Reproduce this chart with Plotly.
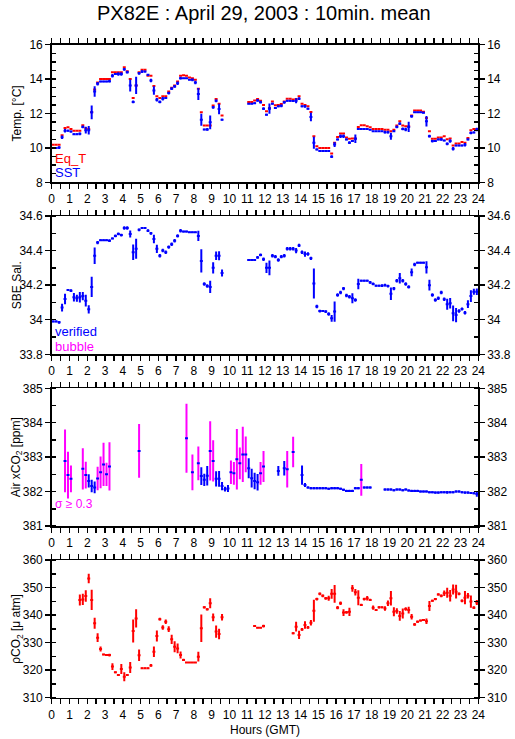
import plotly.graph_objects as go

N_SLOTS = 144  # ten-minute means over 24 hours
slot_hours = [(i + 0.5) / 6 for i in range(N_SLOTS)]
_ = None

# ---------------- Panel 1 : temperatures ----------------
eq_t = [10.18, 10.18, 10.18, 10.74, 11.15, 11.2, 11.1, 11.0, 11.0, 11.0, 11.32, 11.14,
        11.1, 12.07, 13.4, 13.8, 14.0, 14.0, 14.0, 14.0, 14.4, 14.4, 14.4, 14.4,
        14.69, 14.45, 14.0, 12.9, 13.63, 14.4, 14.54, 14.54, 14.19, 14.19, 13.6, 13.0,
        12.9, 13.0, 13.0, 13.28, 13.5, 13.63, 13.86, 14.19, 14.22, 14.2, 14.1, 14.05,
        13.96, 13.44, 12.07, 11.3, 11.3, 11.3, 12.47, 12.84, 12.57, 11.88, _, _,
        _, _, _, _, _, _, 12.67, 12.67, 12.75, 12.84, 12.74, 12.5,
        12.13, 12.32, 12.7, 12.48, 12.5, 12.55, 12.7, 12.86, 12.86, 12.82, 12.84, 13.0,
        12.57, 12.5, 12.42, 12.09, 10.68, 10.1, 10.0, 10.0, 10.0, 10.0, 9.68, 10.3,
        10.64, 10.84, 10.84, 10.6, 10.53, 10.55, 10.55, 11.22, 11.32, 11.32, 11.26, 11.2,
        11.1, 11.1, 11.1, 11.1, 11.05, 11.05, 10.97, 11.05, 11.3, 11.55, 11.3, 11.26,
        11.26, 11.88, 12.18, 12.18, 12.18, 12.1, 11.74, 10.97, 10.53, 10.53, 10.6, 10.6,
        10.68, 10.5, 10.55, 10.14, 10.26, 10.26, 10.34, 10.3, 10.58, 11.03, 11.1, 11.1]

sst = [10.0, 10.0, 10.02, 10.62, 11.0, 11.0, 10.95, 10.8, 10.8, 10.82, 11.22, 11.03,
       11.03, 12.07, 13.28, 13.73, 13.86, 13.86, 13.86, 13.88, 14.19, 14.3, 14.3, 14.3,
       14.57, 14.4, 13.63, 12.67, 13.63, 14.34, 14.44, 14.44, 14.25, 13.92, 13.34, 12.8,
       12.67, 12.86, 12.9, 13.19, 13.44, 13.57, 13.76, 14.05, 14.05, 14.05, 13.96, 13.96,
       13.8, 13.13, 11.64, 11.07, 11.07, 11.49, 12.36, 12.74, 12.26, 11.64, _, _,
       _, _, _, _, _, _, 12.57, 12.57, 12.6, 12.76, 12.66, 12.28,
       11.93, 12.28, 12.57, 12.32, 12.42, 12.45, 12.65, 12.74, 12.74, 12.72, 12.74, 12.86,
       12.42, 12.42, 12.28, 11.8, 10.3, 9.91, 9.82, 9.82, 9.82, 9.82, 9.49, 10.2,
       10.49, 10.68, 10.68, 10.49, 10.3, 10.4, 10.53, 11.1, 11.1, 11.1, 11.1, 11.05,
       10.97, 10.97, 10.97, 10.97, 10.91, 10.91, 10.68, 10.97, 11.22, 11.41, 11.1, 11.07,
       11.22, 11.84, 12.07, 12.07, 12.07, 12.05, 11.55, 10.68, 10.4, 10.4, 10.49, 10.49,
       10.43, 10.24, 10.4, 9.95, 10.14, 10.14, 10.14, 10.18, 10.49, 10.87, 10.9, 11.07]

sst_err = [0.03, 0.03, 0.08, 0.1, 0.1, 0.05, 0.05, 0.05, 0.05, 0.08, 0.08, 0.2,
           0.25, 0.4, 0.3, 0.1, 0.05, 0.05, 0.05, 0.08, 0.1, 0.05, 0.1, 0.1,
           0.08, 0.08, 0.35, 0.08, 0.5, 0.08, 0.08, 0.05, 0.05, 0.1, 0.25, 0.1,
           0.08, 0.1, 0.05, 0.08, 0.08, 0.08, 0.1, 0.08, 0.03, 0.03, 0.03, 0.08,
           0.1, 0.35, 0.35, 0.05, 0.08, 0.4, 0.08, 0.08, 0.3, 0.05, _, _,
           _, _, _, _, _, _, 0.03, 0.03, 0.05, 0.08, 0.08, 0.08,
           0.05, 0.3, 0.05, 0.05, 0.05, 0.08, 0.08, 0.05, 0.05, 0.05, 0.15, 0.08,
           0.05, 0.08, 0.05, 0.25, 0.35, 0.05, 0.03, 0.03, 0.03, 0.03, 0.08, 0.15,
           0.05, 0.1, 0.1, 0.05, 0.08, 0.05, 0.25, 0.05, 0.03, 0.03, 0.03, 0.03,
           0.03, 0.03, 0.03, 0.03, 0.08, 0.08, 0.2, 0.05, 0.08, 0.08, 0.08, 0.1,
           0.3, 0.08, 0.03, 0.03, 0.03, 0.05, 0.3, 0.08, 0.08, 0.05, 0.05, 0.08,
           0.05, 0.08, 0.1, 0.1, 0.05, 0.05, 0.05, 0.1, 0.05, 0.08, 0.05, 0.1]

# ---------------- Panel 2 : SBE salinity ----------------
sal = [33.99, 33.99, 33.985, 34.07, 34.12, 34.172, 34.168, 34.13, 34.124, 34.13, 34.137, 34.11,
       34.06, 34.19, 34.37, 34.446, 34.46, 34.46, 34.46, 34.457, 34.47, 34.485, 34.496, 34.49,
       34.53, 34.53, 34.496, 34.39, 34.41, 34.52, 34.53, 34.53, 34.515, 34.5, 34.467, 34.41,
       34.37, 34.4, 34.39, 34.42, 34.436, 34.457, 34.485, 34.515, 34.51, 34.51, 34.506, 34.506,
       34.506, 34.485, 34.34, 34.207, 34.195, 34.19, 34.30, 34.37, 34.37, 34.27, _, _,
       _, _, _, _, _, _, 34.345, 34.345, 34.345, 34.36, 34.375, 34.35,
       34.30, 34.30, 34.37, 34.365, 34.345, 34.365, 34.37, 34.41, 34.41, 34.41, 34.40, 34.43,
       34.39, 34.38, 34.38, 34.355, 34.21, 34.076, 34.05, 34.05, 34.047, 34.033, 34.008, 34.047,
       34.143, 34.158, 34.18, 34.14, 34.133, 34.124, 34.114, 34.207, 34.226, 34.226, 34.226, 34.216,
       34.207, 34.197, 34.197, 34.197, 34.2, 34.195, 34.15, 34.18, 34.226, 34.24, 34.226, 34.207,
       34.19, 34.274, 34.32, 34.33, 34.33, 34.33, 34.303, 34.2, 34.143, 34.114, 34.124, 34.157,
       34.118, 34.09, 34.095, 34.037, 34.027, 34.05, 34.062, 34.04, 34.09, 34.137, 34.162, 34.162]

sal_err = [0.005, 0.005, 0.008, 0.023, 0.03, 0.005, 0.008, 0.024, 0.02, 0.03, 0.024, 0.034,
           0.024, 0.058, 0.048, 0.01, 0.005, 0.005, 0.005, 0.008, 0.005, 0.008, 0.008, 0.008,
           0.01, 0.01, 0.02, 0.045, 0.058, 0.008, 0.005, 0.005, 0.008, 0.008, 0.024, 0.024,
           0.01, 0.01, 0.01, 0.01, 0.01, 0.01, 0.01, 0.01, 0.005, 0.005, 0.005, 0.005,
           0.005, 0.029, 0.067, 0.01, 0.01, 0.035, 0.032, 0.024, 0.026, 0.02, _, _,
           _, _, _, _, _, _, 0.005, 0.005, 0.005, 0.008, 0.008, 0.01,
           0.03, 0.043, 0.01, 0.01, 0.01, 0.01, 0.01, 0.01, 0.01, 0.01, 0.015, 0.01,
           0.01, 0.015, 0.01, 0.01, 0.087, 0.01, 0.008, 0.005, 0.008, 0.01, 0.02, 0.058,
           0.01, 0.01, 0.01, 0.01, 0.01, 0.029, 0.01, 0.03, 0.005, 0.005, 0.005, 0.008,
           0.008, 0.005, 0.005, 0.008, 0.008, 0.008, 0.036, 0.01, 0.01, 0.03, 0.01, 0.01,
           0.01, 0.022, 0.01, 0.005, 0.005, 0.005, 0.035, 0.031, 0.01, 0.01, 0.01, 0.01,
           0.01, 0.032, 0.03, 0.046, 0.041, 0.01, 0.008, 0.01, 0.022, 0.034, 0.017, 0.019]

# ---------------- Panel 3 : Air xCO2 ----------------
xco2 = [_, _, _, _, 382.89, 382.48, 382.37, _, _, _, 382.66, 382.48,
        382.31, 382.16, 382.12, 382.38, 382.56, 382.79, 382.5, 382.73, _, _, _, _,
        _, _, _, _, _, 383.18, _, _, _, _, _, _,
        _, _, _, _, _, _, _, _, _, 383.55, _, 382.56,
        _, 382.82, 382.45, 382.34, 382.46, 383.18, 382.89, 382.37, 382.37, 382.16, 382.07, 382.09,
        382.56, 382.53, 382.94, 382.82, 383.08, 383.08, 382.68, 382.39, 382.31, 382.27, 382.53, 382.73,
        _, _, _, _, 382.6, _, 382.68, 382.65, _, 383.15, _, _,
        382.48, 382.19, 382.12, 382.1, 382.1, 382.1, 382.1, 382.1, 382.1, 382.08, 382.1, 382.1,
        382.1, 382.08, 382.05, 382.02, 382.02, 382.02, 382.1, 382.1, 382.34, 382.12, 382.12, 382.12,
        _, _, _, _, 382.06, 382.06, 382.06, 382.04, 382.06, 382.06, 382.04, 382.06,
        382.03, 382.02, 382.02, 382.02, 382.0, 382.0, 382.0, 381.98, 381.98, 381.97, 381.97, 381.98,
        381.98, 381.98, 381.98, 381.98, 382.0, 382.0, 381.98, 381.97, 381.97, 381.96, 381.95, 381.93]

xco2_sigma = [_, _, _, _, 0.91, 0.68, 0.39, _, _, _, 0.6, 0.39,
              0.19, 0.18, 0.17, 0.34, 0.46, 0.63, 0.34, 0.7, _, _, _, _,
              _, _, _, _, _, 0.78, _, _, _, _, _, _,
              _, _, _, _, _, _, _, _, _, 1.0, _, 0.52,
              _, 0.49, 0.26, 0.18, 0.28, 0.86, 0.6, 0.22, 0.23, 0.12, 0.07, 0.1,
              0.34, 0.33, 0.88, 0.46, 0.8, 0.52, 0.29, 0.27, 0.24, 0.24, 0.33, 0.45,
              _, _, _, _, 0.14, _, 0.21, 0.53, _, 0.44, _, _,
              0.28, 0.06, 0.03, 0.03, 0.03, 0.03, 0.03, 0.03, 0.03, 0.03, 0.03, 0.03,
              0.03, 0.03, 0.03, 0.03, 0.03, 0.03, 0.03, 0.03, 0.46, 0.03, 0.03, 0.03,
              _, _, _, _, 0.03, 0.03, 0.03, 0.03, 0.03, 0.03, 0.03, 0.03,
              0.03, 0.03, 0.03, 0.03, 0.03, 0.03, 0.03, 0.03, 0.03, 0.03, 0.03, 0.03,
              0.03, 0.04, 0.03, 0.03, 0.03, 0.03, 0.03, 0.03, 0.03, 0.03, 0.03, 0.08]

SIGMA_LIMIT = 0.3

# ---------------- Panel 4 : pCO2 ----------------
pco2 = [_, _, _, _, _, _, _, _, _, 345.5, 345.7, 346.9,
        353.3, 345.5, 337.0, 331.8, 327.7, 325.7, 325.5, 325.5, 321.3, 319.2, 318.2, 320.4,
        317.6, 318.2, 321.0, 334.2, 338.8, 325.4, 320.7, 320.7, 320.7, 321.7, 326.7, 332.4,
        338.5, 335.5, 337.6, 334.9, 331.2, 328.5, 327.9, 325.5, 323.7, 322.8, 322.8, 322.8,
        322.8, 324.9, 335.2, 342.8, 342.1, 344.3, 339.2, 334.0, 333.1, 339.2, _, _,
        _, _, _, _, _, _, _, _, 336.0, 335.4, 335.4, 336.0,
        _, _, _, _, _, _, _, _, _, 333.4, 335.8, 332.8,
        334.8, 336.4, 335.5, 337.2, 341.6, 345.8, 347.7, 347.0, 346.1, 346.1, 347.7, 347.7,
        342.7, 344.3, 340.9, 341.0, 341.2, 349.7, 348.3, 346.3, 343.7, 345.8, 346.1, 345.5,
        342.7, 341.8, 342.8, 342.8, 342.4, 344.3, 346.1, 341.2, 341.5, 339.7, 340.6, 342.2,
        341.8, 339.4, 336.6, 337.6, 338.0, 338.2, 337.8, 343.3, 345.2, 345.8, 347.5, 347.0,
        347.9, 348.1, 347.0, 349.3, 348.5, 347.7, 345.2, 346.3, 347.0, 344.9, 342.7, 344.6]

pco2_err = [_, _, _, _, _, _, _, _, _, 2.0, 2.0, 2.1,
            1.7, 3.7, 2.0, 1.6, 0.9, 0.3, 0.3, 0.5, 1.2, 0.3, 0.3, 1.8,
            1.6, 0.3, 2.0, 4.2, 3.3, 2.1, 0.3, 0.3, 0.3, 0.5, 1.9, 2.0,
            0.5, 0.8, 0.8, 1.0, 1.7, 2.0, 1.8, 1.3, 0.4, 0.2, 0.2, 0.2,
            0.2, 1.8, 5.0, 0.4, 0.4, 1.8, 1.4, 2.2, 1.9, 1.2, _, _,
            _, _, _, _, _, _, _, _, 0.3, 0.2, 0.2, 0.5,
            _, _, _, _, _, _, _, _, _, 0.4, 1.8, 1.5,
            0.5, 1.4, 0.5, 1.0, 4.0, 0.5, 0.5, 0.5, 0.5, 0.9, 1.8, 3.2,
            0.6, 0.6, 1.2, 0.5, 1.5, 1.2, 1.2, 2.7, 0.4, 0.5, 0.8, 0.4,
            0.8, 0.3, 0.4, 0.3, 0.8, 1.0, 2.6, 1.6, 1.0, 1.8, 1.8, 0.6,
            1.2, 1.0, 0.5, 0.4, 0.3, 0.3, 1.0, 1.8, 0.4, 0.4, 0.4, 0.5,
            1.0, 1.8, 2.1, 1.8, 2.5, 0.5, 0.5, 2.4, 1.0, 2.2, 0.5, 0.9]

hour_ticks = list(range(0, 25))

RED, BLUE, MAGENTA = "#ff0000", "#0000ff", "#ff00ff"
FONT = "Liberation Sans, Arial, Helvetica, sans-serif"
HALF_SLOT = 1 / 12
LW = 2

W, H = 515, 739
x0_px, x1_px = 51.7, 478.3
panels_px = [(44.7, 182.3), (216.0, 354.3), (388.3, 526.0), (560.0, 697.7)]
ydom = [[1 - b / H, 1 - t / H] for (t, b) in panels_px]
xdom = [x0_px / W, x1_px / W]

fig = go.Figure()


def add_series(y, err, color, xa, ya, show_h=True):
    kw = dict(x=slot_hours, y=y, mode="markers", xaxis=xa, yaxis=ya,
              marker=dict(size=0.1, color=color, opacity=0), showlegend=False,
              hoverinfo="skip")
    if show_h:
        kw["error_x"] = dict(type="constant", value=HALF_SLOT, width=0,
                             thickness=LW, color=color, visible=True)
    if err is not None:
        kw["error_y"] = dict(type="data", array=err, width=0, thickness=LW,
                             color=color, visible=True)
    fig.add_trace(go.Scatter(**kw))


# Panel 1
add_series(eq_t, None, RED, "x", "y")
add_series(sst, sst_err, BLUE, "x", "y")
# Panel 2
add_series(sal, sal_err, BLUE, "x2", "y2")
# Panel 3
bub_y = [v if (v is not None and s >= SIGMA_LIMIT) else None for v, s in zip(xco2, xco2_sigma)]
bub_e = [s if (s is not None and s >= SIGMA_LIMIT) else None for s in xco2_sigma]
ver_e = [(s if s < SIGMA_LIMIT else 0) if s is not None else None for s in xco2_sigma]
add_series(bub_y, bub_e, MAGENTA, "x3", "y3", show_h=False)
add_series(xco2, ver_e, BLUE, "x3", "y3")
# Panel 4
add_series(pco2, pco2_err, RED, "x4", "y4")

yranges = [(8, 16), (33.8, 34.6), (381, 385), (310, 360)]
ydticks = [2, 0.2, 1, 10]
yminor = [0.5, 0.1, 0.5, 5]
ytitles = ["Temp. [°C]", "SBE Sal.", "Air xCO<sub>2</sub> [ppm]", "ρCO<sub>2</sub> [μ atm]"]

layout = dict(width=W, height=H, margin=dict(l=0, r=0, t=0, b=0, autoexpand=False),
              paper_bgcolor="white", plot_bgcolor="white",
              font=dict(family=FONT, size=12, color="black"))

for i in range(4):
    sx = "" if i == 0 else str(i + 1)
    layout["xaxis" + sx] = dict(
        domain=xdom, anchor="y" + sx, range=[0, 24], tickmode="array",
        tickvals=hour_ticks, ticktext=[str(h) for h in hour_ticks],
        ticks="outside", ticklen=5, tickwidth=1.5, tickcolor="black",
        minor=dict(dtick=0.5, ticks="outside", ticklen=3, tickwidth=1.5, tickcolor="black"),
        showline=True, linewidth=1.5, linecolor="black", mirror="allticks",
        showgrid=False, zeroline=False, tickfont=dict(size=12), fixedrange=True,
        automargin=False)
    lo, hi = yranges[i]
    common = dict(range=[lo, hi], dtick=ydticks[i], tick0=lo, ticks="outside", ticklen=5,
                  tickwidth=1.5, tickcolor="black",
                  minor=dict(dtick=yminor[i], ticks="inside", ticklen=4, tickwidth=1.5,
                             tickcolor="black"),
                  showline=True, linewidth=1.5, linecolor="black", showgrid=False,
                  zeroline=False, tickfont=dict(size=12), fixedrange=True,
                  automargin=False)
    layout["yaxis" + sx] = dict(domain=ydom[i], anchor="x" + sx, side="left", **common)
    r = str(i + 5)
    layout["yaxis" + r] = dict(overlaying="y" + sx, anchor="x" + sx, side="right", **common)
    # invisible carrier trace for the right-hand axis
    fig.add_trace(go.Scatter(x=[0], y=[lo], xaxis="x" + sx, yaxis="y" + r, mode="markers",
                             marker=dict(opacity=0, size=1), showlegend=False,
                             hoverinfo="skip"))

fig.update_layout(**layout)

ann = []
ann.append(dict(text="PX82E : April 29, 2003 : 10min. mean", x=0.513, y=1 - 12.5 / H,
                xref="paper", yref="paper", showarrow=False, font=dict(size=20),
                xanchor="center", yanchor="middle"))
for i, t in enumerate(ytitles):
    top, bot = panels_px[i]
    ann.append(dict(text=t, x=17 / W, y=1 - (top + bot) / 2 / H, xref="paper", yref="paper",
                    showarrow=False, textangle=-90, font=dict(size=12),
                    xanchor="center", yanchor="middle"))
ann.append(dict(text="Hours (GMT)", x=(x0_px + x1_px) / 2 / W, y=1 - 730 / H, xref="paper",
                yref="paper", showarrow=False, font=dict(size=12), xanchor="center",
                yanchor="middle"))


def legend_text(text, color, px_y, size=12):
    ann.append(dict(text=text, x=53 / W, y=1 - px_y / H, xref="paper", yref="paper",
                    showarrow=False, font=dict(size=size, color=color), xanchor="left",
                    yanchor="middle"))


legend_text("Eq_T", RED, 158, size=13)
legend_text("SST", BLUE, 173, size=13)
legend_text("verified", BLUE, 332, size=13)
legend_text("bubble", MAGENTA, 346, size=13)
legend_text("σ ≥ 0.3", MAGENTA, 504)

fig.update_layout(annotations=ann)
fig.write_html("out.html", config={"displayModeBar": False, "staticPlot": True},
               post_script="document.body.style.margin='0';"
                           "document.body.style.overflow='hidden';")
